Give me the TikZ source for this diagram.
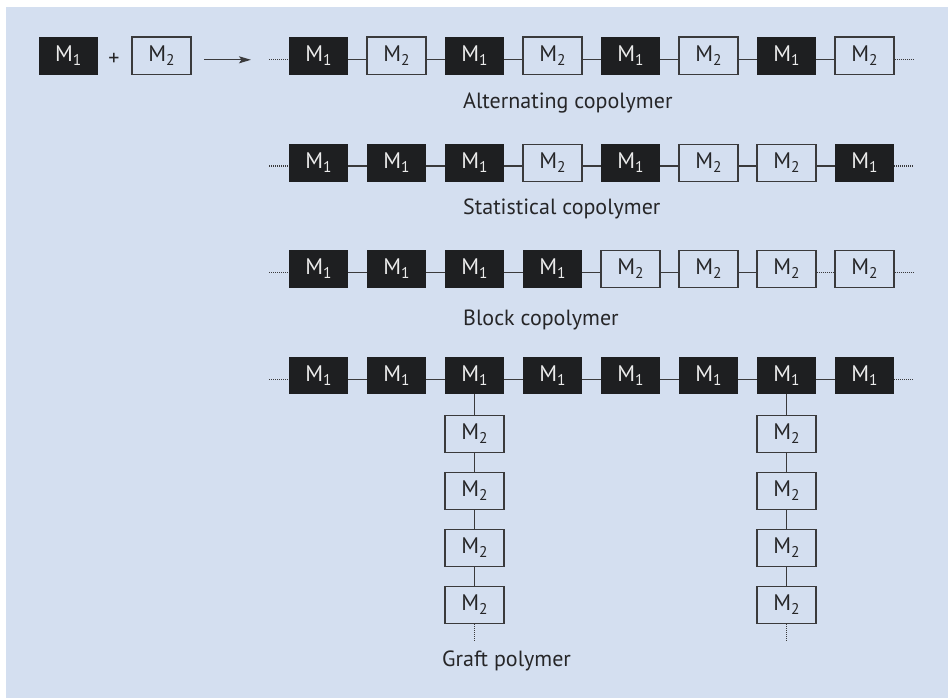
\documentclass[tikz,border=0pt]{standalone}
\usepackage{fontspec}
\setmainfont{PT Sans}
\usetikzlibrary{arrows.meta}
\definecolor{panel}{RGB}{212,223,240}
\definecolor{ink}{RGB}{30,31,33}
\definecolor{edge}{RGB}{58,58,60}
\definecolor{txt}{RGB}{38,38,40}
\newcommand\mon[1]{M\raisebox{-4pt}{\fontsize{15.5}{15.5}\selectfont #1}}
\begin{document}
\begin{tikzpicture}[x=1pt,y=-1pt,
  mbox/.style={minimum width=59pt,minimum height=37.5pt,inner sep=0pt,font=\fontsize{22.5}{22.5}\selectfont},
  blk/.style={mbox,fill=ink,text=white!92!black},
  wht/.style={mbox,draw=edge,line width=1.3pt,text=txt},
  link/.style={draw=edge,line width=1.3pt},
  dots/.style={draw=edge,line width=1.3pt,dash pattern=on 1pt off 1pt},
  lbl/.style={anchor=base west,inner sep=0pt,text=txt,font=\fontsize{22}{22}\selectfont}]
\useasboundingbox (0,0) rectangle (948,698);
\fill[panel] (6,7) rectangle (948,698);

% reactants
\node[blk] (m1) at (68.3,55.8) {\mon{1}};
\node[text=txt,font=\fontsize{22}{22}\selectfont,inner sep=0pt] (plus) at (114,59) {+};
\node[wht] (m2) at (161.5,55.8) {\mon{2}};
\coordinate (arS) at (204,59.8);
\coordinate (arE) at (251,59.8);
\draw[link,-{Stealth[length=12pt,width=7pt,inset=2.5pt]}] (arS) -- (arE);

% alternating
\foreach \t/\n [count=\i] in {blk/1,wht/2,blk/1,wht/2,blk/1,wht/2,blk/1,wht/2}
  \node[\t] (a\i) at ({318.5+78*(\i-1)},55.8) {\mon{\n}};
\foreach \i [count=\j from 2] in {1,...,7}
  \draw[link] ([yshift=-4pt]a\i.east) -- ([yshift=-4pt]a\j.west);
\coordinate (aL) at (269,59.8);
\coordinate (aR) at (913,59.8);
\draw[dots] (aL) -- ([yshift=-4pt]a1.west);
\draw[dots] ([yshift=-4pt]a8.east) -- (aR);
\node[lbl] (la) at (463,109) {Alternating copolymer};

% statistical
\foreach \t/\n [count=\i] in {blk/1,blk/1,blk/1,wht/2,blk/1,wht/2,wht/2,blk/1}
  \node[\t] (s\i) at ({318.5+78*(\i-1)},163) {\mon{\n}};
\foreach \i [count=\j from 2] in {1,...,7}
  \draw[link] ([yshift=-3pt]s\i.east) -- ([yshift=-3pt]s\j.west);
\coordinate (sL) at (269,166);
\coordinate (sR) at (913,166);
\draw[dots] (sL) -- ([yshift=-3pt]s1.west);
\draw[dots] ([yshift=-3pt]s8.east) -- (sR);
\node[lbl] (ls) at (463,214.3) {Statistical copolymer};

% block
\foreach \t/\n [count=\i] in {blk/1,blk/1,blk/1,blk/1,wht/2,wht/2,wht/2,wht/2}
  \node[\t] (b\i) at ({318.5+78*(\i-1)},269) {\mon{\n}};
\foreach \i [count=\j from 2] in {1,...,6}
  \draw[link] ([yshift=-3.5pt]b\i.east) -- ([yshift=-3.5pt]b\j.west);
\draw[dots] ([yshift=-3.5pt]b7.east) -- ([yshift=-3.5pt]b8.west);
\coordinate (bL) at (269,272.5);
\coordinate (bR) at (913,272.5);
\draw[dots] (bL) -- ([yshift=-3.5pt]b1.west);
\draw[dots] ([yshift=-3.5pt]b8.east) -- (bR);
\node[lbl] (lb) at (463,325) {Block copolymer};

% graft
\foreach \i in {1,...,8}
  \node[blk] (g\i) at ({318.5+78*(\i-1)},375.5) {\mon{1}};
\foreach \i [count=\j from 2] in {1,...,7}
  \draw[link] ([yshift=-3.8pt]g\i.east) -- ([yshift=-3.8pt]g\j.west);
\coordinate (gL) at (269,379.3);
\coordinate (gR) at (913,379.3);
\draw[dots] (gL) -- ([yshift=-3.8pt]g1.west);
\draw[dots] ([yshift=-3.8pt]g8.east) -- (gR);
\foreach \k [count=\r] in {434,491,548,605} {
  \node[wht] (gl\r) at (474.5,\k) {\mon{2}};
  \node[wht] (gr\r) at (786.5,\k) {\mon{2}};
}
\draw[link] (g3.south) -- (gl1.north);
\draw[link] (g7.south) -- (gr1.north);
\foreach \i [count=\j from 2] in {1,2,3} {
  \draw[link] (gl\i.south) -- (gl\j.north);
  \draw[link] (gr\i.south) -- (gr\j.north);
}
\coordinate (glE) at (474.5,641);
\coordinate (grE) at (786.5,641);
\draw[dots] (gl4.south) -- (glE);
\draw[dots] (gr4.south) -- (grE);
\node[lbl] (lg) at (442,666) {Graft polymer};
\end{tikzpicture}
\end{document}
